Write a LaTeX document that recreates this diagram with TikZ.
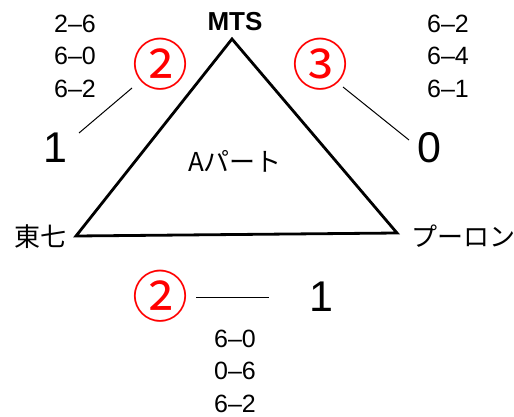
\documentclass[tikz,border=0pt]{standalone}
\usepackage{fontspec}
\setmainfont{Liberation Sans}
\newfontfamily\jp{Noto Sans CJK JP}
\begin{document}
\begin{tikzpicture}[x=1pt,y=-1pt,
  score/.style={inner sep=0pt, font=\fontsize{25}{32.5}\selectfont, align=center},
  big/.style={inner sep=0pt, font=\fontsize{43}{43}\selectfont},
  lbl/.style={inner sep=0pt, font=\jp\fontsize{26}{26}\selectfont},
  circ/.style={inner sep=0pt, text=red, font=\jp\fontsize{56}{56}\selectfont},
  tri/.style={line width=2.8pt, line join=miter},
  leader/.style={line width=1pt}]
\useasboundingbox (0,0) rectangle (514,417);
% triangle
\coordinate (apex) at (232,39);
\coordinate (lv) at (76,236);
\coordinate (rv) at (397,233);
\draw[tri] (lv) -- (apex) -- (rv) -- cycle;
% labels
\node[inner sep=0pt, font=\fontsize{26}{26}\selectfont\bfseries] (mts) at (235,22) {MTS};
\node[lbl] (tou) at (40,237) {東七};
\node[lbl] (pur) at (463,236) {プーロン};
\node[lbl] (apart) at (235,161) {Aパート};
% scores
\node[score] (sl) at (75,56) {2–6\\6–0\\6–2};
\node[score] (sr) at (448,56) {6–2\\6–4\\6–1};
\node[score] (sb) at (235,371) {6–0\\0–6\\6–2};
% circled
\node[circ] (cl) at (160,64) {②};
\node[circ] (cr) at (320,64) {③};
\node[circ] (cb) at (160,296) {②};
% big numbers
\node[big] (nl) at (55,148) {1};
\node[big] (nr) at (429,148) {0};
\node[big] (nb) at (321,297) {1};
% leaders
\coordinate (l1a) at (132,88); \coordinate (l1b) at (79,133);
\coordinate (l2a) at (343,87); \coordinate (l2b) at (409,140);
\coordinate (l3a) at (196,297); \coordinate (l3b) at (269,297);
\draw[leader] (l1a) -- (l1b);
\draw[leader] (l2a) -- (l2b);
\draw[leader] (l3a) -- (l3b);
\end{tikzpicture}
\end{document}
